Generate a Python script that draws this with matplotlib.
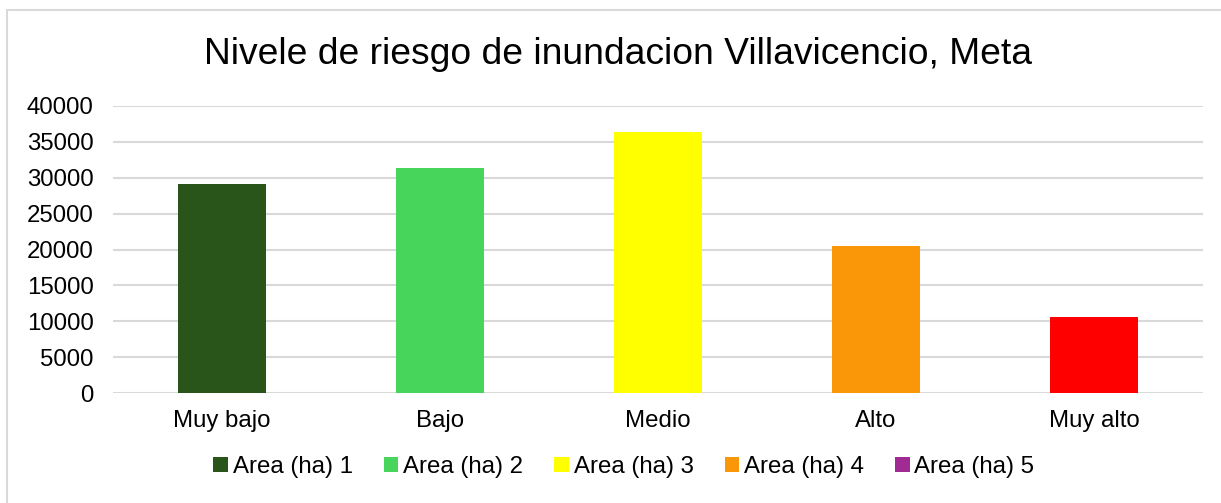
import matplotlib.pyplot as plt
from matplotlib.patches import Patch, Rectangle

# datos
categorias = ['Muy bajo', 'Bajo', 'Medio', 'Alto', 'Muy alto']
area_ha = [29100, 31350, 36350, 20450, 10550]
colores = ['#29541A', '#47D65B', '#FFFF00', '#F99708', '#FF0000']
leyenda = ['Area (ha) 1', 'Area (ha) 2', 'Area (ha) 3', 'Area (ha) 4', 'Area (ha) 5']
colores_leyenda = ['#29541A', '#47D65B', '#FFFF00', '#F99708', '#A02B93']
yticks = [0, 5000, 10000, 15000, 20000, 25000, 30000, 35000, 40000]

plt.rcParams['font.family'] = ['Liberation Sans', 'DejaVu Sans']

fig = plt.figure(figsize=(12.21, 5.03), dpi=100)
ax = fig.add_axes([113 / 1221, 1 - 393 / 503, 1090 / 1221, 287 / 503])

ax.bar(range(len(categorias)), area_ha, width=0.4, color=colores, zorder=3)

ax.set_xlim(-0.5, 4.5)
ax.set_ylim(0, 40000)
ax.set_yticks(yticks)
ax.set_yticklabels([str(v) for v in yticks])
ax.set_xticks(range(len(categorias)))
ax.set_xticklabels(categorias)
ax.tick_params(axis='y', length=0, pad=14, labelsize=17.3, labelcolor='#000000')
ax.tick_params(axis='x', length=0, pad=12, labelsize=17.3, labelcolor='#000000')
ax.grid(axis='y', color='#D9D9D9', linewidth=1.5, zorder=0)
for s in ax.spines.values():
    s.set_visible(False)

fig.text(0.506, 1 - 55 / 503, 'Nivele de riesgo de inundacion Villavicencio, Meta',
         ha='center', va='center', fontsize=26.8)

handles = [Patch(facecolor=c, edgecolor='none') for c in colores_leyenda]
fig.legend(handles, leyenda, loc='center', bbox_to_anchor=(0.511, 1 - 467 / 503),
           ncol=5, frameon=False, fontsize=17.3, handlelength=0.6, handleheight=0.6,
           handletextpad=0.2, columnspacing=1.3)

# borde del grafico (solo arriba e izquierda visibles)
fig.patches.append(Rectangle((7.5 / 1221, -0.1), 1.2, 1.1 - 10 / 503, transform=fig.transFigure,
                             fill=False, edgecolor='#D9D9D9', linewidth=1.5))

fig.savefig('out.png', dpi=100, facecolor='white')
